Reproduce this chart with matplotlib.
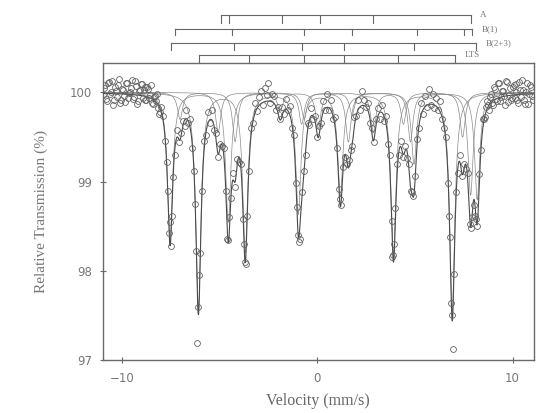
import numpy as np
import matplotlib
matplotlib.use("Agg")
import matplotlib.pyplot as plt
from matplotlib.transforms import blended_transform_factory

vel = [
    -10.9, -10.8, -10.7, -10.6, -10.5, -10.4, -10.3, -10.2, -10.1, -10.0,
    -9.9, -9.8, -9.7, -9.6, -9.5, -9.4, -9.3, -9.2, -9.1, -9.0,
    -8.9, -8.8, -8.7, -8.6, -8.5, -8.4, -8.3, -8.2, -8.1, -8.0,
    -7.9, -7.8, -7.7, -7.6, -7.5, -7.4, -7.3, -7.2, -7.1, -7.0,
    -6.9, -6.8, -6.7, -6.6, -6.5, -6.4, -6.3, -6.2, -6.1, -6.0,
    -5.9, -5.8, -5.7, -5.6, -5.5, -5.4, -5.3, -5.2, -5.1, -5.0,
    -4.9, -4.8, -4.7, -4.6, -4.5, -4.4, -4.3, -4.2, -4.1, -4.0,
    -3.9, -3.8, -3.7, -3.6, -3.5, -3.4, -3.3, -3.2, -3.1, -3.0,
    -2.9, -2.8, -2.7, -2.6, -2.5, -2.4, -2.3, -2.2, -2.1, -2.0,
    -1.9, -1.8, -1.7, -1.6, -1.5, -1.4, -1.3, -1.2, -1.1, -1.0,
    -0.9, -0.8, -0.7, -0.6, -0.5, -0.4, -0.3, -0.2, -0.1, 0.0,
    0.1, 0.2, 0.3, 0.4, 0.5, 0.6, 0.7, 0.8, 0.9, 1.0,
    1.1, 1.2, 1.3, 1.4, 1.5, 1.6, 1.7, 1.8, 1.9, 2.0,
    2.1, 2.2, 2.3, 2.4, 2.5, 2.6, 2.7, 2.8, 2.9, 3.0,
    3.1, 3.2, 3.3, 3.4, 3.5, 3.6, 3.7, 3.8, 3.9, 4.0,
    4.1, 4.2, 4.3, 4.4, 4.5, 4.6, 4.7, 4.8, 4.9, 5.0,
    5.1, 5.2, 5.3, 5.4, 5.5, 5.6, 5.7, 5.8, 5.9, 6.0,
    6.1, 6.2, 6.3, 6.4, 6.5, 6.6, 6.7, 6.8, 6.9, 7.0,
    7.1, 7.2, 7.3, 7.4, 7.5, 7.6, 7.7, 7.8, 7.9, 8.0,
    8.1, 8.2, 8.3, 8.4, 8.5, 8.6, 8.7, 8.8, 8.9, 9.0,
    9.1, 9.2, 9.3, 9.4, 9.5, 9.6, 9.7, 9.8, 9.9, 10.0,
    10.1, 10.2, 10.3, 10.4, 10.5, 10.6, 10.7, 10.8, 10.9, 11.0,
]
trans = [
    100.05, 99.93, 100.10, 99.98, 100.13, 99.91, 100.02, 100.08, 99.88, 100.04,
    99.96, 100.11, 99.94, 100.01, 100.14, 99.95, 100.07, 99.90, 100.03, 100.09,
    100.03, 99.91, 100.06, 99.94, 100.08, 99.87, 99.96, 99.98, 99.76, 99.84,
    99.74, 99.45, 99.22, 98.42, 98.28, 99.05, 99.30, 99.58, 99.44, 99.55,
    99.68, 99.62, 99.80, 99.66, 99.70, 99.38, 99.12, 98.22, 97.59, 98.20,
    98.90, 99.46, 99.52, 99.78, 99.66, 99.80, 99.58, 99.55, 99.28, 99.42,
    99.40, 99.38, 98.90, 98.36, 98.60, 98.82, 99.10, 98.94, 99.25, 99.22,
    99.20, 98.58, 98.10, 98.62, 99.12, 99.60, 99.66, 99.88, 99.79, 99.95,
    100.02, 99.86, 100.05, 99.97, 100.10, 99.88, 99.98, 99.96, 99.80, 99.84,
    99.70, 99.84, 99.76, 99.93, 99.80, 99.85, 99.60, 99.52, 98.98, 98.40,
    98.36, 98.88, 99.12, 99.30, 99.66, 99.64, 99.82, 99.70, 99.74, 99.50,
    99.62, 99.66, 99.90, 99.80, 99.98, 99.80, 99.92, 99.70, 99.72, 99.38,
    98.92, 98.74, 99.16, 99.28, 99.20, 99.24, 99.36, 99.40, 99.72, 99.74,
    99.92, 99.80, 100.02, 99.92, 99.84, 99.88, 99.66, 99.60, 99.44, 99.70,
    99.82, 99.70, 99.86, 99.68, 99.74, 99.42, 99.30, 98.56, 98.18, 98.70,
    99.20, 99.30, 99.46, 99.28, 99.40, 99.26, 99.20, 98.90, 98.84, 99.06,
    99.48, 99.60, 99.88, 99.76, 99.96, 99.84, 100.04, 99.86, 99.98, 99.82,
    99.94, 99.80, 99.90, 99.70, 99.60, 99.50, 98.98, 98.38, 97.50, 97.96,
    98.88, 99.10, 99.30, 99.06, 99.20, 99.14, 99.10, 98.52, 98.60, 98.74,
    98.62, 98.50, 99.08, 99.36, 99.70, 99.72, 99.90, 99.80, 99.98, 99.86,
    100.04, 99.90, 100.10, 99.95, 100.02, 99.86, 100.12, 99.97, 99.91, 100.06,
    99.94, 100.09, 99.88, 100.03, 100.14, 99.92, 100.01, 99.87, 100.08, 99.96,
]
# additional channels close to the line centres
vel_extra = [-7.55, -7.65, -7.45, -6.15, -6.05, -6.25, -4.55, -3.65, -3.75,
             -0.95, -1.05, 1.15, 3.85, 3.95, 4.85, 6.85, 6.95, 6.75, 7.85, 8.15]
trans_extra = [98.55, 98.90, 98.62, 97.19, 97.95, 98.75, 98.34, 98.08, 98.30,
               98.32, 98.72, 98.80, 98.16, 98.30, 98.88, 97.64, 97.12, 98.62, 98.48, 98.58]
# additional channels in the flat wings (dense band)
vel_wing = [
    -10.95, -10.85, -10.75, -10.65, -10.55, -10.45, -10.35, -10.25, -10.15, -10.05,
    -9.95, -9.85, -9.75, -9.65, -9.55, -9.45, -9.35, -9.25, -9.15, -9.05,
    -8.95, -8.85, -8.75, -8.65, -8.55, -8.45, -8.35, -8.25, -8.15, -8.05,
    8.55, 8.65, 8.75, 8.85, 8.95, 9.05, 9.15, 9.25, 9.35, 9.45,
    9.55, 9.65, 9.75, 9.85, 9.95, 10.05, 10.15, 10.25, 10.35, 10.45,
    10.55, 10.65, 10.75, 10.85, 10.95, 11.05,
]
trans_wing = [
    99.97, 100.08, 99.90, 100.12, 100.00, 99.86, 100.06, 99.95, 100.15, 99.92,
    100.03, 99.89, 100.10, 99.99, 100.05, 99.93, 100.13, 99.87, 100.02, 100.09,
    99.94, 100.06, 99.91, 100.04, 99.97, 99.88, 99.95, 99.90, 99.82, 99.78,
    99.70, 99.84, 99.86, 99.95, 99.88, 100.06, 99.93, 100.11, 99.90, 100.02,
    99.96, 100.13, 99.89, 100.05, 99.94, 100.08, 100.00, 99.91, 100.12, 99.95,
    100.03, 99.87, 100.10, 99.98, 100.06, 99.92,
]

# ---------------- fitted sub-spectra (line position, depth %) ----------------
fit_hwhm = 0.16
a_pos = [-5.08, -1.90, 0.05, 2.87, 4.41, 7.44]
a_depth = [0.45, 0.22, 0.40, 0.45, 0.35, 0.50]
b1_pos = [-7.03, -4.21, -0.67, 1.78, 4.77, 7.85]
b1_depth = [0.30, 0.55, 0.30, 0.25, 0.55, 1.15]
b23_pos = [-7.54, -4.56, -0.80, 1.59, 4.95, 8.19]
b23_depth = [1.65, 1.45, 0.35, 0.55, 0.80, 1.20]
lts_pos = [-6.09, -3.69, -0.97, 1.18, 3.90, 6.91]
lts_depth = [2.42, 1.78, 1.35, 1.15, 1.80, 2.45]

# ---------------- stick diagrams above the frame ----------------
stick_labels = ["A", "B(1)", "B(2+3)", "LTS"]
stick_a = [-4.94, -4.51, -1.81, 0.15, 2.87, 7.85]
stick_b1 = [-7.28, -4.37, -0.67, 1.78, 5.11, 7.50, 7.93]
stick_b23 = [-7.50, -4.29, -0.78, 1.35, 4.94, 8.15]
stick_lts = [-6.04, -3.52, -0.67, 1.38, 4.12, 7.03]

yticks = [97, 98, 99, 100]
xticks = [-10, 0, 10]

# ------------------------------------------------------------------
fig = plt.figure(figsize=(5.5, 4.13), dpi=100)
ax = fig.add_axes([0.1864, 0.1283, 0.7846, 0.7192])

gray_axis = "#6a6a6a"
v_grid = np.linspace(-11.0, 11.1, 3000)

def component(pos, depth):
    pos = np.asarray(pos)[:, None]
    depth = np.asarray(depth)[:, None]
    return (depth / (1.0 + ((v_grid[None, :] - pos) / fit_hwhm) ** 2)).sum(axis=0)

comps = [component(a_pos, a_depth), component(b1_pos, b1_depth),
         component(b23_pos, b23_depth), component(lts_pos, lts_depth)]
for c in comps:
    ax.plot(v_grid, 100 - c, color="#8a8a8a", lw=0.5, zorder=2)
total = sum(comps)
ax.plot(v_grid, 100 - total, color="#4a4a4a", lw=0.8, zorder=3)

marker_kw = dict(linestyle="none", marker="o", markersize=4.2,
                 markerfacecolor="none", markeredgecolor="#626262",
                 markeredgewidth=0.6, zorder=4)
ax.plot(vel, trans, **marker_kw)
ax.plot(vel_extra, trans_extra, **marker_kw)
ax.plot(vel_wing, trans_wing, **marker_kw)

ax.set_xlim(-11.0, 11.1)
ax.set_ylim(97.0, 100.33)
ax.set_xticks(xticks)
ax.set_xticklabels(["\u221210", "0", "10"])
ax.set_yticks(yticks)
ax.set_yticklabels([str(t) for t in yticks])
ax.tick_params(direction="inout", length=5, width=0.8, color=gray_axis,
               labelcolor="#777777", labelsize=8.5)
ax.tick_params(axis="x", pad=6)
ax.tick_params(axis="y", pad=5)
for s in ax.spines.values():
    s.set_color(gray_axis)
    s.set_linewidth(1.0)

ax.set_xlabel("Velocity (mm/s)", family="Liberation Serif", fontsize=11.5,
              color="#666666", labelpad=6)
ax.set_ylabel("Relative Transmission (%)", family="Liberation Serif", fontsize=11,
              color="#777777", labelpad=16)

# stick diagrams
trans_b = blended_transform_factory(ax.transData, ax.transAxes)
rows = [(stick_a, 1.1616, 1.1347), (stick_b1, 1.1128, 1.0943),
        (stick_b23, 1.0673, 1.0438), (stick_lts, 1.0269, 1.0)]
for (sticks, ybar, ytick), lab in zip(rows, stick_labels):
    ax.plot([sticks[0], sticks[-1]], [ybar, ybar], color="#666666", lw=0.8,
            transform=trans_b, clip_on=False)
    for s in sticks:
        ax.plot([s, s], [ybar, ytick], color="#666666", lw=0.8,
                transform=trans_b, clip_on=False)
    ax.text(sticks[-1] + 0.5, ybar, lab, transform=trans_b, fontsize=6.5,
            family="Liberation Serif", color="#777777", va="center", ha="left")

fig.savefig("out.png", dpi=100)
